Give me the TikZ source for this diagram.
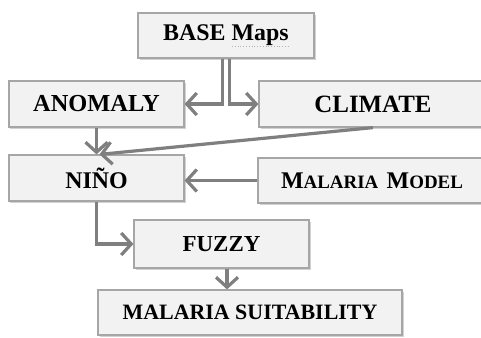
\documentclass[tikz,border=0pt]{standalone}
\usepackage{fontspec}
\setmainfont{Liberation Serif}
\usetikzlibrary{arrows.meta,shadows,calc}
\definecolor{boxfill}{HTML}{F2F2F2}
\definecolor{boxline}{HTML}{A6A6A6}
\definecolor{arrowgray}{HTML}{7F7F7F}
\begin{document}
\begin{tikzpicture}[x=1bp,y=-1bp,
  box/.style={draw=boxline,line width=1.2bp,fill=boxfill,inner sep=0pt,
    font=\fontsize{24}{26}\selectfont\bfseries,
    drop shadow={opacity=0.35,shadow xshift=1.5bp,shadow yshift=-1.5bp}},
  conn/.style={draw=arrowgray,line width=3.2bp,
    -{Straight Barb[length=10bp,width=22bp,line width=3.2bp]}}]
\useasboundingbox (0,0) rectangle (481,337);
\clip (0,0) rectangle (481,337);
\fill[white] (0,0) rectangle (481,337);
\node[box,minimum width=176bp,minimum height=45bp] (base) at (226,35.5) {BASE Maps};
\node[box,minimum width=175bp,minimum height=46bp,font=\fontsize{24.5}{26}\selectfont\bfseries] (anomaly) at (96.5,104) {ANOMALY};
\node[box,minimum width=228bp,minimum height=46bp,font=\fontsize{25}{26}\selectfont\bfseries] (climate) at (373,104) {CLIMATE};
\node[box,minimum width=175bp,minimum height=46bp] (nino) at (96.5,178) {NIÑO};
\node[box,minimum width=228bp,minimum height=45bp] (model) at (372,180.5)
  {M{\fontsize{19}{20}\selectfont ALARIA}\hspace{0.35em}M{\fontsize{19}{20}\selectfont ODEL}};
\node[box,minimum width=175bp,minimum height=48bp,font=\fontsize{23}{26}\selectfont\bfseries] (fuzzy) at (221.5,244) {FUZZY};
\node[box,minimum width=304bp,minimum height=45bp,font=\fontsize{22}{26}\selectfont\bfseries] (suit) at (250,312.5) {MALARIA SUITABILITY};
\draw[gray!60,line width=0.8bp,dotted] (232,46.5) -- (289,46.5);
\draw[conn] ([xshift=-3.5bp]base.south) |- (anomaly.east);
\draw[conn] ([xshift=3.5bp]base.south) |- (climate.west);
\draw[conn] (anomaly.south) -- (nino.north);
\draw[conn] ([xshift=0bp]climate.south) -- ([xshift=3bp]nino.north);
\draw[conn] (model.west) -- (model.west -| nino.east);
\draw[conn] (nino.south) |- (fuzzy.west);
\draw[conn] ([xshift=5.5bp]fuzzy.south) -- ([xshift=5.5bp]fuzzy.south |- suit.north);
\end{tikzpicture}
\end{document}
